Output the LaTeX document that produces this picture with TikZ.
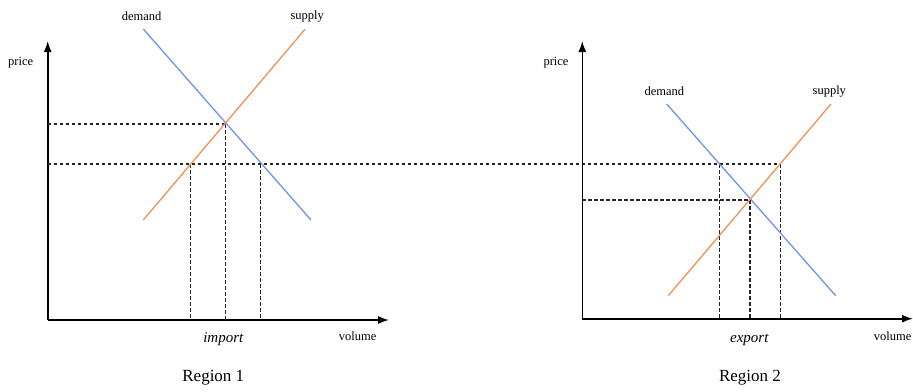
\documentclass[tikz,border=0pt]{standalone}
\usepackage{fontspec}
\setmainfont{Liberation Serif}
\usetikzlibrary{arrows.meta}
\definecolor{dblue}{RGB}{110,150,222}
\definecolor{sorange}{RGB}{242,145,85}
\tikzset{
  axis/.style={line width=1.6pt,-{Latex[length=11pt,width=8pt]}},
  dem/.style={dblue,line width=1.3pt},
  sup/.style={sorange,line width=1.3pt},
  guide/.style={black!85,line width=1.1pt,dash pattern=on 3.5pt off 2.5pt},
  lbl/.style={font=\fontsize{12.5}{14}\selectfont,inner sep=0pt},
  trade/.style={font=\fontsize{15}{17}\selectfont\itshape,inner sep=0pt},
  region/.style={font=\fontsize{17}{19}\selectfont,inner sep=0pt}
}
\begin{document}
\begin{tikzpicture}[x=1pt,y=-1pt]
\useasboundingbox (0,0) rectangle (913,391);
% ---------- Region 1 ----------
\coordinate (o1) at (47.7,320);
\coordinate (y1) at (47.7,41);
\coordinate (x1) at (389,320);
\draw[axis] (o1) -- (y1);
\draw[axis] (o1) -- (x1);
\coordinate (d1a) at (143.3,29);
\coordinate (d1b) at (311,220);
\coordinate (s1a) at (143.3,220);
\coordinate (s1b) at (305,29.3);
\coordinate (e1) at (225.3,124);
\coordinate (pe1) at (47.7,124);
\coordinate (pw) at (47.7,164);
\coordinate (q1a) at (190.3,164);
\coordinate (q1c) at (260.3,164);
\coordinate (b1a) at (190.3,320);
\coordinate (b1b) at (225.3,320);
\coordinate (b1c) at (260.3,320);
\draw[guide] (pe1) -- (e1);
\draw[guide] (q1a) -- (b1a);
\draw[guide] (e1) -- (b1b);
\draw[guide] (q1c) -- (b1c);
% world price line spanning both regions
\coordinate (pw2) at (780.7,164);
\draw[guide] (pw) -- (pw2);
\draw[dem] (d1a) -- (d1b);
\draw[sup] (s1a) -- (s1b);
\node[lbl] (dl1) at (141.7,16.7) {demand};
\node[lbl] (sl1) at (307.3,16.7) {supply};
\node[lbl] (pl1) at (20.7,62.3) {price};
\node[lbl] (vl1) at (357.7,336) {volume};
\node[trade] (im) at (223.3,339.3) {import};
\node[region] (r1) at (213.3,377.7) {Region 1};
% ---------- Region 2 ----------
\coordinate (o2) at (582.3,318.7);
\coordinate (y2) at (582.3,41);
\coordinate (x2) at (913,318.7);
\draw[axis] (o2) -- (y2);
\draw[axis] (o2) -- (x2);
\coordinate (d2a) at (666.7,104);
\coordinate (d2b) at (835.7,295.7);
\coordinate (s2a) at (668.3,295.7);
\coordinate (s2b) at (831,104);
\coordinate (e2) at (750,200);
\coordinate (pe2) at (582.3,200);
\coordinate (q2a) at (719.3,164);
\coordinate (b2a) at (719.3,318.7);
\coordinate (b2b) at (750,318.7);
\coordinate (b2c) at (780.7,318.7);
\draw[guide] (pe2) -- (e2);
\draw[guide] (q2a) -- (b2a);
\draw[guide] (e2) -- (b2b);
\draw[guide] (pw2) -- (b2c);
\draw[dem] (d2a) -- (d2b);
\draw[sup] (s2a) -- (s2b);
\node[lbl] (dl2) at (664.3,91.7) {demand};
\node[lbl] (sl2) at (829.3,91.7) {supply};
\node[lbl] (pl2) at (556,62.3) {price};
\node[lbl] (vl2) at (892.7,336) {volume};
\node[trade] (ex) at (749.3,340) {export};
\node[region] (r2) at (750,377.7) {Region 2};
\end{tikzpicture}
\end{document}
